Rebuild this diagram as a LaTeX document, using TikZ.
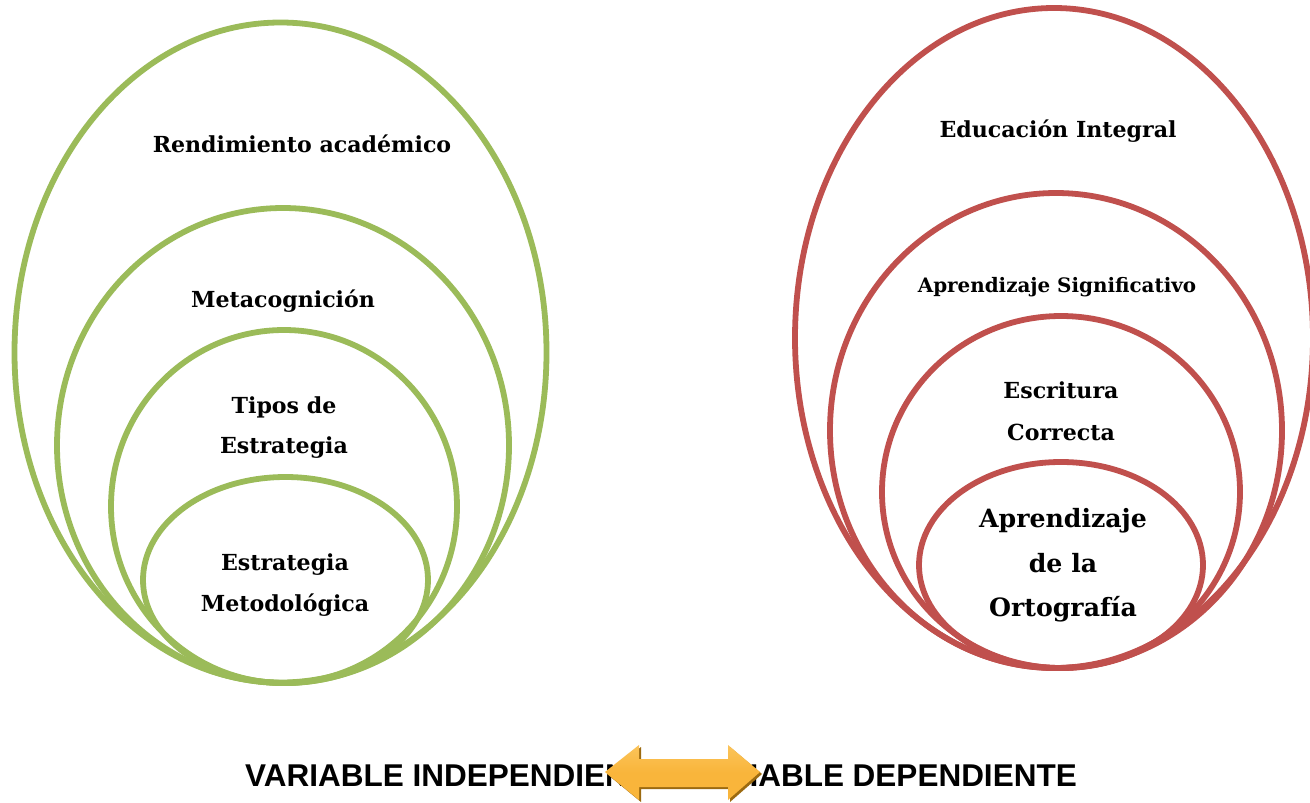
\documentclass[tikz,border=0pt]{standalone}
\usepackage{fontspec}
\setmainfont{DejaVu Serif}
\newfontfamily\arialfont{Liberation Sans}
\definecolor{gr}{HTML}{9BBB59}
\definecolor{rd}{HTML}{C0504D}
\definecolor{arrfill}{HTML}{F9B53B}
\definecolor{arrtop}{HTML}{FBC45A}
\definecolor{arrshadow}{HTML}{9C6A10}
\tikzset{
  ring/.style={line width=5.8pt},
  gring/.style={ring, draw=gr},
  rring/.style={ring, draw=rd},
  lbl/.style={anchor=base, inner sep=0pt, font=\bfseries\fontsize{22.1}{26}\selectfont},
  lblsmall/.style={lbl, font=\bfseries\fontsize{19.9}{24}\selectfont},
  lblbig/.style={lbl, font=\bfseries\fontsize{25.2}{30}\selectfont},
  vartext/.style={anchor=base, inner sep=0pt, font=\arialfont\bfseries\fontsize{31.5}{36}\selectfont},
}
\begin{document}
\begin{tikzpicture}[x=1pt,y=-1pt]
\useasboundingbox (0,0) rectangle (1310,803);
\clip (0,0) rectangle (1310,803);
\fill[white] (0,0) rectangle (1310,803);
% left (green) rings
\draw[gring] (280.5,352.5) ellipse [x radius=266pt, y radius=330pt];
\draw[gring] (283,445.5) ellipse [x radius=226pt, y radius=237.5pt];
\draw[gring] (284,506.5) ellipse [x radius=173pt, y radius=176.5pt];
\draw[gring] (285.5,580) ellipse [x radius=142.5pt, y radius=103pt];
% right (red) rings
\draw[rring] (1054,338) ellipse [x radius=259pt, y radius=330pt];
\draw[rring] (1056,430.5) ellipse [x radius=226pt, y radius=237.5pt];
\draw[rring] (1061,492) ellipse [x radius=179pt, y radius=176pt];
\draw[rring] (1061,565) ellipse [x radius=142pt, y radius=103pt];
% left labels
\node[lbl] (l1) at (302,152) {Rendimiento académico};
\node[lbl] (l2) at (283,307) {Metacognición};
\node[lbl] (l3a) at (284,413) {Tipos de};
\node[lbl] (l3b) at (284,453) {Estrategia};
\node[lbl] (l4a) at (285,570) {Estrategia};
\node[lbl] (l4b) at (285,611) {Metodológica};
% right labels
\node[lbl] (r1) at (1058,137) {Educación Integral};
\node[lblsmall] (r2) at (1057,292) {Aprendizaje Significativo};
\node[lbl] (r3a) at (1061,398) {Escritura};
\node[lbl] (r3b) at (1061,440) {Correcta};
\node[lblbig] (r4a) at (1063,527) {Aprendizaje};
\node[lblbig] (r4b) at (1063,572) {de la};
\node[lblbig] (r4c) at (1063,616) {Ortografía};
% bottom texts
\node[vartext, anchor=base west] (vi) at (245,786) {VARIABLE INDEPENDIENTE};
\node[vartext, anchor=base east] (vd) at (1077,786) {VARIABLE DEPENDIENTE};
% double block arrow
\fill[arrshadow] (607,774) -- (641,747) -- (641,761) -- (730,761) -- (730,747) -- (762,774) -- (730,802) -- (730,789) -- (641,789) -- (641,802) -- cycle;
\shade[top color=arrtop, bottom color=arrfill, middle color=arrfill] (605,772) -- (639,745) -- (639,759) -- (728,759) -- (728,745) -- (760,772) -- (728,800) -- (728,787) -- (639,787) -- (639,800) -- cycle;
\end{tikzpicture}
\end{document}
